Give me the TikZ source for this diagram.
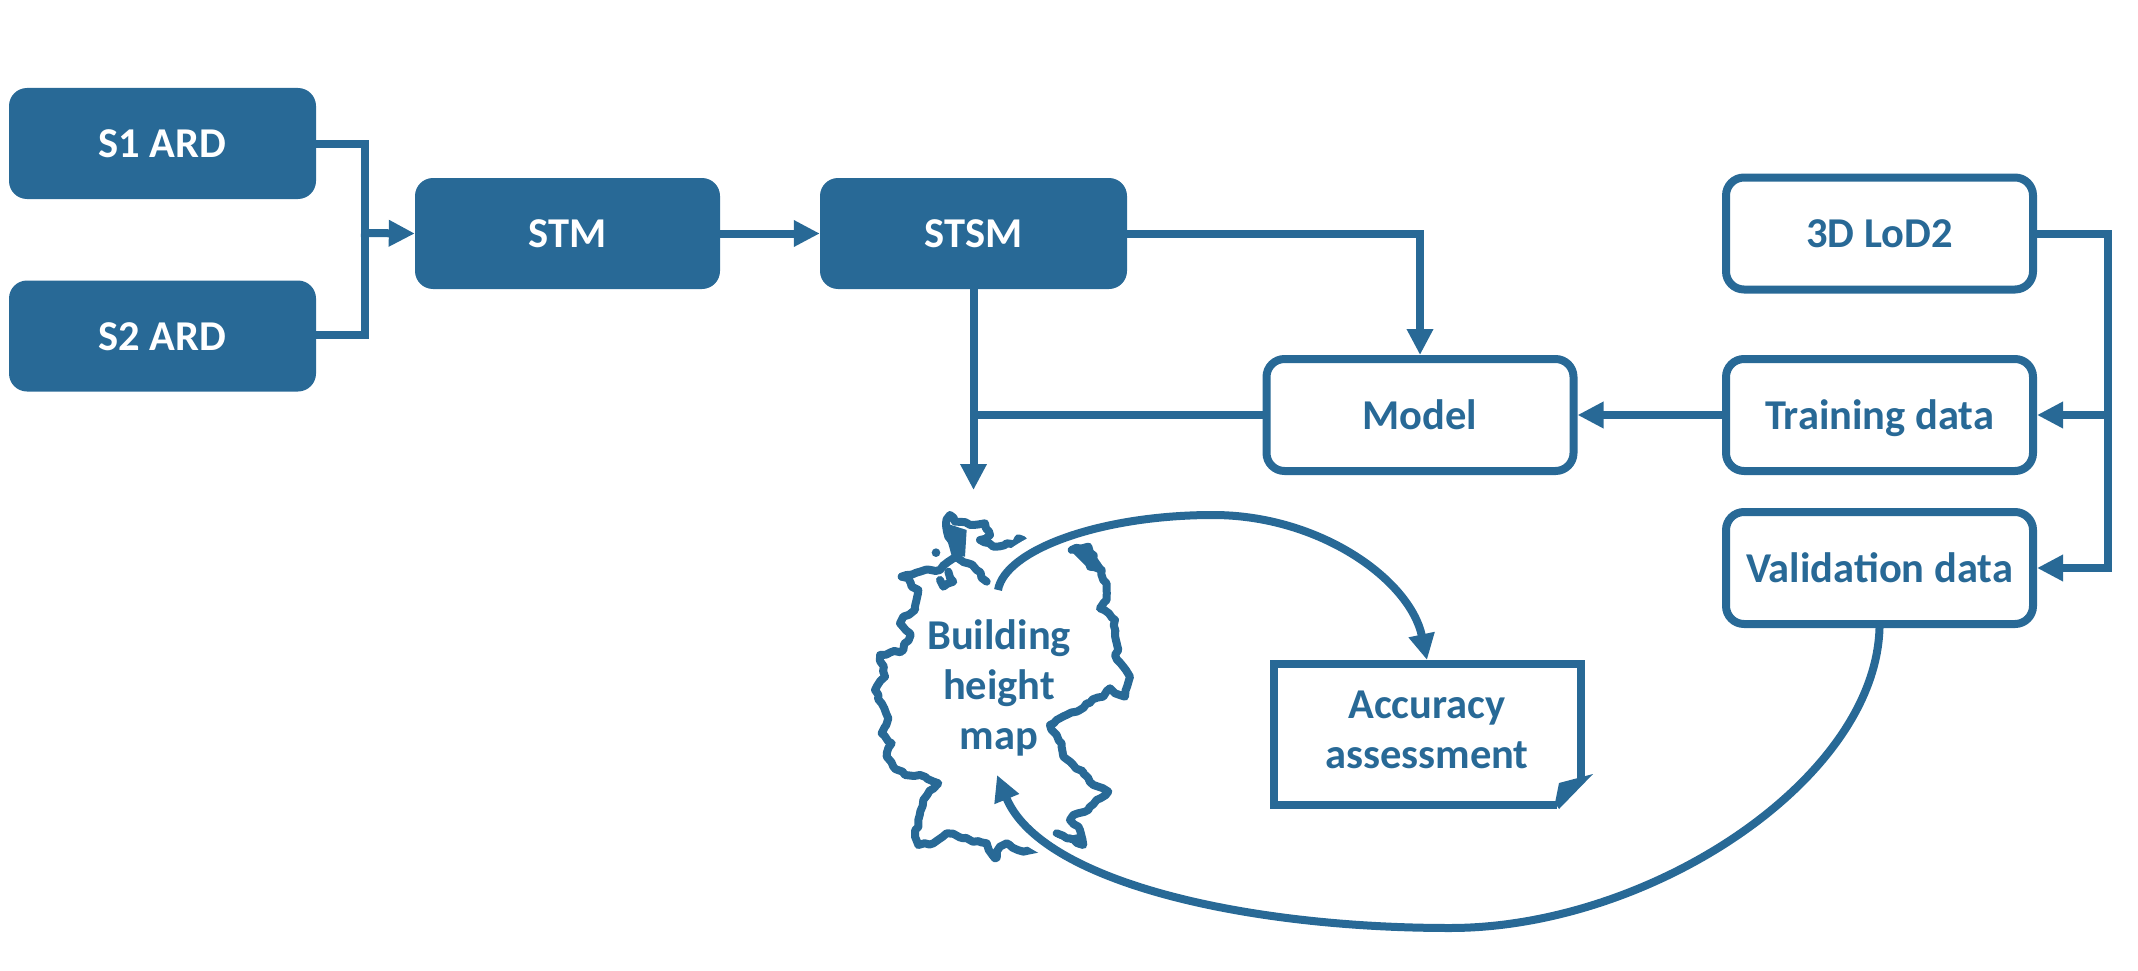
\documentclass[tikz,border=0pt]{standalone}
\usepackage{fontspec}
\setmainfont{Carlito}
\usetikzlibrary{arrows.meta,decorations.pathmorphing}
\definecolor{bl}{HTML}{286996}
\tikzset{
  x=1pt,y=-1pt,
  boxfont/.style={font=\fontsize{42.5}{50}\selectfont\bfseries},
  solidbox/.style={boxfont,fill=bl,text=white,rounded corners=18pt,minimum width=307pt,minimum height=111pt,inner sep=0pt,text height=28pt,text depth=0pt},
  linebox/.style={boxfont,draw=bl,line width=8pt,fill=white,text=bl,rounded corners=18pt,minimum width=307pt,minimum height=112pt,inner sep=0pt,text height=28pt,text depth=0pt},
  plaintext/.style={boxfont,text=bl,align=center,inner sep=0pt},
  conn/.style={draw=bl,line width=8pt,line join=miter},
  tipped/.style={conn,-{Triangle[length=26pt,width=25pt]}},
  curve/.style={draw=bl,line width=8pt,-{Triangle[length=26pt,width=25pt]}},
  halo/.style={draw=white,line width=22pt},
  border/.style={draw=bl,line width=8pt,line join=round,line cap=round,decorate,decoration={random steps,segment length=5pt,amplitude=1.5pt}},
}
\pgfmathsetseed{7}
\begin{document}
\begin{tikzpicture}
\useasboundingbox (0,0) rectangle (2138,971);
% Germany outline
\begin{scope}[shift={(840pt,-480pt)},x=0.3333pt,y=-0.3333pt]
\draw[border] (185,290)--(240,275)--(300,270)--(325,245)--(350,230)--(340,200)--(325,170)--(318,130)--(330,105)--(345,125)--(400,135)--(435,130)--(450,165)--(420,180)--(460,200)--(500,190)--(525,195)--(535,175)--(555,190)--(530,215)--(505,235);
\draw[border] (695,210)--(745,200)--(760,235)--(750,260)--(785,270)--(800,325)--(800,360)--(780,385)--(825,420)--(825,460)--(835,510)--(825,525)--(850,560)--(870,590)--(855,650)--(825,640)--(810,625)--(790,650)--(740,670)--(710,695)--(650,720)--(630,735)--(650,765)--(665,790)--(670,830)--(700,855)--(730,880)--(760,915)--(805,935)--(770,960)--(745,990)--(700,1005)--(690,1020)--(720,1050)--(730,1095)--(680,1075)--(650,1060);
\draw[border] (600,1100)--(550,1115)--(500,1090)--(480,1100)--(465,1135)--(440,1090)--(370,1075)--(320,1060)--(280,1090)--(235,1095)--(225,1070)--(235,1020)--(250,960)--(295,910)--(240,885)--(195,885)--(160,860)--(140,830)--(155,790)--(125,760)--(145,715)--(125,670)--(105,630)--(135,590)--(120,525)--(190,510)--(210,460)--(180,430)--(190,410)--(225,390)--(235,330)--(215,320)--(205,295)--(185,290);
\draw[border] (345,230)--(385,250)--(410,270)--(440,305);
\draw[border] (300,300)--(310,320)--(340,305)--(325,275);
\fill[bl] (318,130)--(380,150)--(375,230)--(340,225)--cycle;
\fill[bl] (690,210)--(745,195)--(790,260)--(740,260)--cycle;
\fill[bl] (680,1070)--(725,1060)--(732,1100)--cycle;
\fill[bl] (288,218) circle (13);
\end{scope}
% nodes
\node[solidbox] (s1) at (162.5,143.5) {S1 ARD};
\node[solidbox] (s2) at (162.5,336) {S2 ARD};
\node[solidbox,minimum width=305pt] (stm) at (567.5,233.5) {STM};
\node[solidbox] (stsm) at (973.5,233.5) {STSM};
\node[linebox] (lod) at (1879.5,233.5) {3D LoD2};
\node[linebox] (train) at (1879.5,415) {Training data};
\node[linebox] (val) at (1879.5,568) {Validation data};
\node[linebox] (model) at (1420,415) {Model};
\node[plaintext] (acc) at (1427,730) {Accuracy\\assessment};
\node[plaintext] (map) at (999,688) {Building\\height\\map};
% folded note outline
\coordinate (nw) at (1274,664);
\coordinate (ne) at (1581,664);
\coordinate (se) at (1581,778);
\coordinate (sw) at (1274,805);
\draw[conn] (1581,778)--(ne)--(nw)--(sw)--(1557,805);
\fill[bl] (1593,774)--(1559,809)--(1555,803)--(1559,783)--cycle;
\coordinate (acctop) at (1427,660);
\coordinate (mapout) at (998,590);
\coordinate (mapin) at (997,775);
\coordinate (joinL) at (365,233);
\coordinate (stsmdown) at (973.5,490);
% connectors
\draw[conn] (s1.east |- 0,144) -| (joinL) |- (s2.east |- 0,335);
\draw[tipped] (361,233) -- (stm.west);
\draw[tipped] (stm.east) -- (stsm.west);
\draw[tipped] (stsm.east) -| (model.north);
\draw[tipped] (stsm.south) -- (stsmdown);
\draw[conn] (model.west) -- (975,415);
\draw[tipped] (train.west) -- (model.east);
\draw[tipped] (lod.east) -| (2108,568) -- (val.east);
\draw[tipped] (2108,415) -- (train.east);
% curves
\draw[halo] (1003,570) .. controls (1030,540) and (1100,515) .. (1213,515);
\draw[halo] (1030,835) .. controls (1070,860) and (1130,885) .. (1200,900);
\draw[curve] (mapout) .. controls (1005,550) and (1100,515) .. (1213,515) .. controls (1320,515) and (1410,580) .. (acctop);
\draw[curve] (val.south) .. controls (1875,780) and (1650,928) .. (1450,928) .. controls (1240,928) and (1040,880) .. (mapin);
\end{tikzpicture}
\end{document}
